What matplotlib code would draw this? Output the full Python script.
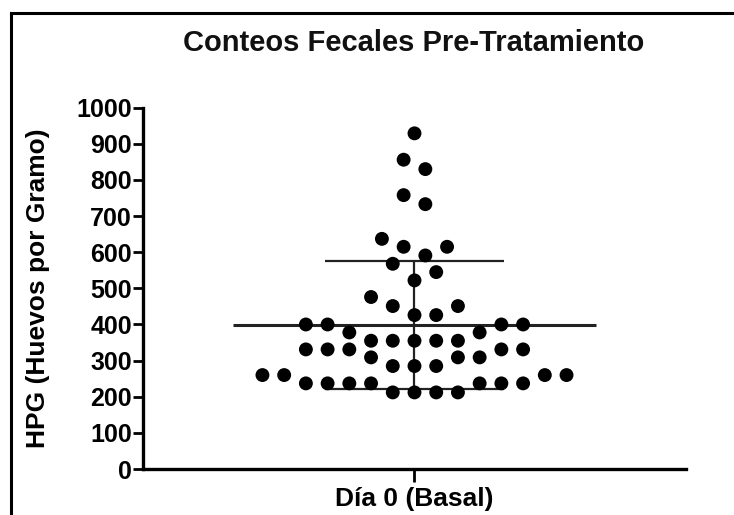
import numpy as np
import matplotlib
matplotlib.use('Agg')
import matplotlib.pyplot as plt
from matplotlib.lines import Line2D

# HPG values (one entry per animal)
hpg = [212, 212, 212, 212,
       237, 237, 237, 237, 237, 237, 237,
       260, 260, 260, 260,
       285, 285, 285,
       309, 309, 309,
       331, 331, 331, 331, 331,
       355, 355, 355, 355, 355,
       378, 378,
       400, 400, 400, 400,
       426, 426,
       451, 451,
       476,
       522, 545, 568,
       591, 615, 615, 637,
       733, 758,
       830, 856,
       929]
group_label = 'Día 0 (Basal)'
title = 'Conteos Fecales Pre-Tratamiento'
y_label = 'HPG (Huevos por Gramo)'
y_ticks = [0, 100, 200, 300, 400, 500, 600, 700, 800, 900, 1000]

plt.rcParams['font.family'] = ['Liberation Sans', 'DejaVu Sans']
plt.rcParams['font.weight'] = 'bold'


# scatter dot layout like prism: values binned, dots spread from centre in each bin
def spread(values, bin_size=75, start=200, step=0.08):
    vals = np.sort(np.asarray(values, dtype=float))
    xs = np.zeros(len(vals))
    bins = np.floor((vals - start) / bin_size).astype(int)
    for b in np.unique(bins):
        idx = np.where(bins == b)[0]
        n = len(idx)
        slots = []
        if n % 2 == 1:
            slots.append(0.0)
            k = 1
            while len(slots) < n:
                slots += [k, -k]
                k += 1
        else:
            k = 0.5
            while len(slots) < n:
                slots += [k, -k]
                k += 1
        xs[idx] = np.array(slots[:n]) * step
    return xs, vals


fig = plt.figure(figsize=(7.34, 5.15), dpi=100)
ax = fig.add_axes([0.1948, 0.0893, 0.7398, 0.7016])

xs, ys = spread(hpg)
ax.scatter(xs, ys, s=100, color='black', edgecolors='none', zorder=3)

mean = np.mean(hpg)
sd = np.std(hpg, ddof=1)
ax.hlines(mean, -0.667, 0.667, color='#222222', lw=2.2, zorder=2)
ax.hlines([mean - sd, mean + sd], -0.33, 0.33, color='#222222', lw=1.6, zorder=2)
ax.vlines(0, mean - sd, mean + sd, color='#222222', lw=1.6, zorder=2)

ax.set_xlim(-1, 1)
ax.set_ylim(0, 1000)
ax.set_yticks(y_ticks)
ax.set_xticks([0])
ax.set_xticklabels([group_label], fontsize=19, fontweight='bold')
ax.tick_params(axis='y', labelsize=18, length=7, width=2, pad=1)
ax.tick_params(axis='x', length=9, width=2, pad=4)
for lab in ax.get_yticklabels():
    lab.set_fontweight('bold')

for s in ['top', 'right']:
    ax.spines[s].set_visible(False)
for s in ['left', 'bottom']:
    ax.spines[s].set_linewidth(2.4)

ax.set_ylabel(y_label, fontsize=19, fontweight='bold')
ax.yaxis.set_label_coords(-0.172, 0.5)

fig.text(0.563, 0.9165, title, ha='center', va='center', fontsize=21,
         fontweight='bold', color='#111111')

# outer frame (left and top only, as in the picture)
fig.add_artist(Line2D([0.015, 0.015], [0, 0.9748], color='black', lw=2.2,
                      transform=fig.transFigure))
fig.add_artist(Line2D([0.015, 1.0], [0.9748, 0.9748], color='black', lw=2.2,
                      transform=fig.transFigure))

fig.savefig('out.png', dpi=100)
